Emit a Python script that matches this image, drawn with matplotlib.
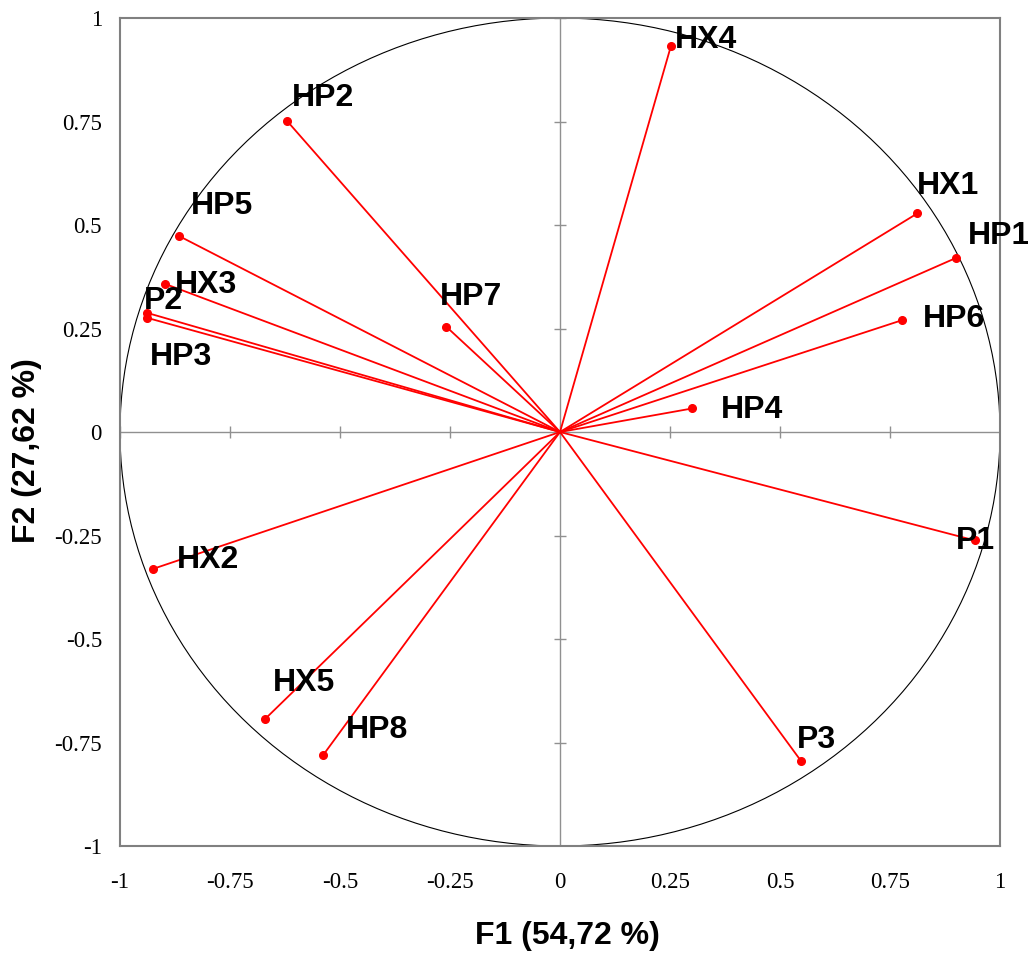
import numpy as np
import matplotlib
matplotlib.use("Agg")
import matplotlib.pyplot as plt

# Variable loadings on the first two factors
names = ["HX4", "HP2", "HX1", "HP1", "HP6", "HP4", "P1", "P3",
         "HP8", "HX5", "HX2", "HP7", "HP5", "HX3", "P2", "HP3"]
f1 = [0.252, -0.620, 0.812, 0.899, 0.777, 0.301, 0.943, 0.548,
      -0.538, -0.670, -0.926, -0.258, -0.865, -0.898, -0.939, -0.939]
f2 = [0.932, 0.751, 0.528, 0.420, 0.270, 0.057, -0.262, -0.795,
      -0.780, -0.693, -0.331, 0.254, 0.473, 0.358, 0.288, 0.276]

# label offsets in pixels (dx, dy)
offsets = [(4, 6), (5, 23), (0, 27), (12, 22), (21, 1), (28, -2), (-19, -1), (-4, 21),
           (23, 25), (8, 36), (24, 9), (-7, 30), (12, 30), (10, -1), (-3, 12), (3, -39)]

ticks = [-1, -0.75, -0.5, -0.25, 0, 0.25, 0.5, 0.75, 1]
tick_labels = ["-1", "-0.75", "-0.5", "-0.25", "0", "0.25", "0.5", "0.75", "1"]

fig = plt.figure(figsize=(10.28, 9.58), dpi=100)
ax = fig.add_axes([0.1167, 0.1169, 0.8561, 0.8643])
ax.set_xlim(-1, 1)
ax.set_ylim(-1, 1)

for s in ax.spines.values():
    s.set_color("#808080")
    s.set_linewidth(1.5)

# correlation circle
t = np.linspace(0, 2 * np.pi, 400)
ax.plot(np.cos(t), np.sin(t), color="black", lw=0.8)

# centre axes with crossing tick marks
ax.axhline(0, color="#909090", lw=1)
ax.axvline(0, color="#909090", lw=1)
ax.plot(ticks, [0] * len(ticks), ls="none", marker="|", ms=9, mew=1, color="#909090")
ax.plot([0] * len(ticks), ticks, ls="none", marker="_", ms=9, mew=1, color="#909090")

for name, x, y, (dx, dy) in zip(names, f1, f2, offsets):
    ax.plot([0, x], [0, y], color="red", lw=1.3)
    ax.plot(x, y, "o", color="red", ms=5.5)
    ax.annotate(name, (x, y), xytext=(dx, dy), textcoords="offset pixels",
                ha="left", va="center", fontsize=23, fontweight="bold",
                family="Liberation Sans")

ax.set_xticks(ticks)
ax.set_xticklabels(tick_labels)
ax.set_yticks(ticks)
ax.set_yticklabels(tick_labels)
ax.tick_params(length=0, labelsize=16.5)
ax.tick_params(axis="x", pad=19)
ax.tick_params(axis="y", pad=13)
for lab in ax.get_xticklabels() + ax.get_yticklabels():
    lab.set_family("Liberation Serif")

ax.set_xlabel("F1 (54,72 %)", fontsize=23, fontweight="bold",
              family="Liberation Sans", va="center")
ax.xaxis.set_label_coords(0.508, -0.109)
ax.set_ylabel("F2 (27,62 %)", fontsize=23, fontweight="bold",
              family="Liberation Sans", va="center")
ax.yaxis.set_label_coords(-0.106, 0.478)

fig.savefig("out.png", dpi=100)
